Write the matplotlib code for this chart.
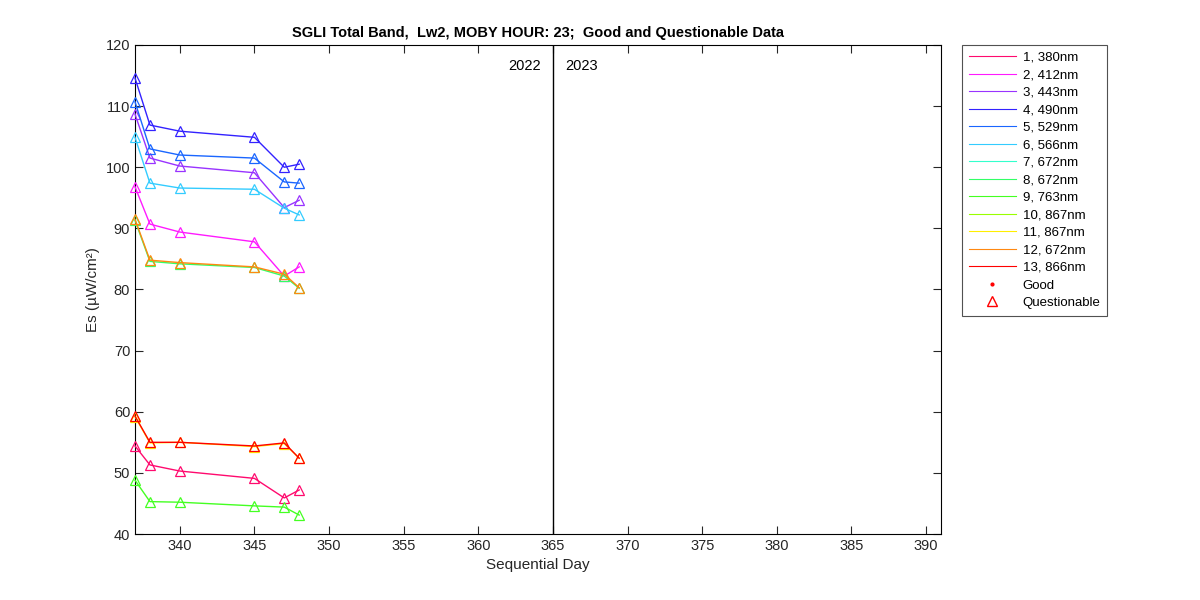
import matplotlib
matplotlib.use('Agg')
import matplotlib.pyplot as plt
from matplotlib.lines import Line2D
import numpy as np

plt.rcParams['font.family'] = ['Liberation Sans', 'DejaVu Sans']

days = [337, 338, 340, 345, 347, 348]

band_labels = ['1, 380nm', '2, 412nm', '3, 443nm', '4, 490nm', '5, 529nm',
               '6, 566nm', '7, 672nm', '8, 672nm', '9, 763nm', '10, 867nm',
               '11, 867nm', '12, 672nm', '13, 866nm']
band_colors = ['#ff0a6e', '#ff1aff', '#9933ff', '#3322ff', '#1a66ff',
               '#33ccff', '#33ffcc', '#33ff66', '#44ff22', '#99ff00',
               '#ffee00', '#ff8811', '#ff0000']

# questionable data per band (bands with no data are left out)
es = {
    1: [54.4, 51.3, 50.3, 49.1, 45.9, 47.2],
    2: [96.8, 90.7, 89.4, 87.8, 82.2, 83.7],
    3: [108.7, 101.5, 100.2, 99.1, 93.4, 94.6],
    4: [114.6, 106.9, 105.9, 104.9, 100.0, 100.5],
    5: [110.7, 103.0, 102.0, 101.5, 97.6, 97.4],
    6: [104.9, 97.4, 96.6, 96.4, 93.3, 92.2],
    8: [91.3, 84.6, 84.2, 83.6, 82.2, 80.2],
    9: [48.8, 45.3, 45.2, 44.6, 44.4, 43.1],
    11: [59.2, 54.9, 55.0, 54.3, 54.8, 52.4],
    12: [91.5, 84.8, 84.4, 83.7, 82.5, 80.3],
    13: [59.3, 55.0, 55.0, 54.4, 54.9, 52.4],
}

fig = plt.figure(figsize=(12, 6), dpi=100)
ax = fig.add_axes([0.1125, 0.11, 0.6717, 0.815])

for b in range(1, 14):
    if b not in es:
        continue
    c = band_colors[b - 1]
    ax.plot(days, es[b], color=c, lw=1, marker='^', ms=7.5, mfc='none',
            mec=c, mew=0.9, clip_on=False, zorder=3)

ax.axvline(365, color='k', lw=1)
ax.text(364.2, 116.5, '2022', ha='right', va='center', fontsize=10.5)
ax.text(365.8, 116.5, '2023', ha='left', va='center', fontsize=10.5)

ax.set_xlim(337, 391)
ax.set_ylim(40, 120)
ax.set_xticks(np.arange(340, 391, 5))
ax.set_yticks(np.arange(40, 121, 10))
ax.tick_params(direction='in', top=True, right=True, labelsize=10.5,
               length=6, colors='#262626')
ax.set_xlabel('Sequential Day', fontsize=11, color='#262626')
ax.set_ylabel('Es (\u00b5W/cm\u00b2)', fontsize=11, color='#262626')
ax.set_title('SGLI Total Band,  Lw2, MOBY HOUR: 23;  Good and Questionable Data',
             fontsize=10.5, fontweight='bold')

handles = [Line2D([], [], color=c, lw=0.8) for c in band_colors]
handles.append(Line2D([], [], color='r', marker='.', ms=4, ls='none'))
handles.append(Line2D([], [], color='r', marker='^', ms=7.5, mfc='none', ls='none'))
labels = band_labels + ['Good', 'Questionable']
leg = fig.legend(handles, labels, loc='upper left',
                 bbox_to_anchor=(962 / 1200, 1 - 45 / 600), fontsize=9.5,
                 frameon=True, fancybox=False, edgecolor='#262626',
                 handlelength=3.6, handletextpad=0.5, labelspacing=0.4,
                 borderpad=0.5, borderaxespad=0)
leg.get_frame().set_linewidth(0.8)

fig.savefig('out.png', dpi=100)
